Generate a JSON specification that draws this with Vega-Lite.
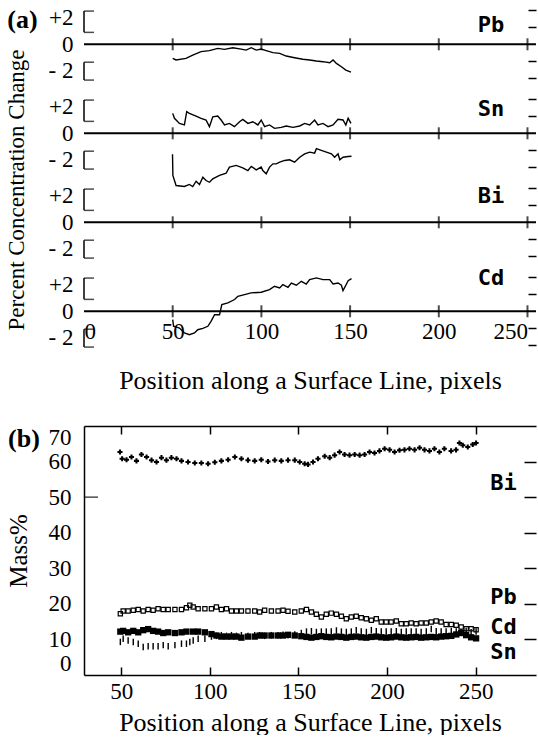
{
"$schema": "https://vega.github.io/schema/vega-lite/v6.json",
"autosize": {"type": "pad"},
"padding": {"left": 6, "top": 0, "right": 0, "bottom": 0},
"bounds": "flush",
"spacing": 0,
"datasets": {
"xt": [{"x": 50}, {"x": 100}, {"x": 150}, {"x": 200}, {"x": 250}],
"br": [{"lo": 0.7, "hi": 1.95}, {"lo": -2.1, "hi": -1.05}],
"sf": [{"y": 1.95}, {"y": 0.7}, {"y": -1.05}, {"y": -2.1}],
"a": [
{"el":"Pb","x":50,"v":-0.83},{"el":"Pb","x":51.9,"v":-0.92},{"el":"Pb","x":57.5,"v":-0.83},{"el":"Pb","x":61.3,"v":-0.63},{"el":"Pb","x":66.0,"v":-0.43},{"el":"Pb","x":70.7,"v":-0.37},{"el":"Pb","x":75.4,"v":-0.24},{"el":"Pb","x":79.2,"v":-0.30},{"el":"Pb","x":83.9,"v":-0.20},{"el":"Pb","x":88.6,"v":-0.28},{"el":"Pb","x":91.4,"v":-0.34},{"el":"Pb","x":94.3,"v":-0.20},{"el":"Pb","x":97.1,"v":-0.34},{"el":"Pb","x":99.9,"v":-0.28},{"el":"Pb","x":102.7,"v":-0.37},{"el":"Pb","x":106.5,"v":-0.49},{"el":"Pb","x":110.3,"v":-0.53},{"el":"Pb","x":114.0,"v":-0.69},{"el":"Pb","x":118.7,"v":-0.79},{"el":"Pb","x":123.4,"v":-0.88},{"el":"Pb","x":127.2,"v":-0.92},{"el":"Pb","x":131.0,"v":-0.98},{"el":"Pb","x":134.7,"v":-1.02},{"el":"Pb","x":138.5,"v":-1.08},{"el":"Pb","x":140.4,"v":-0.92},{"el":"Pb","x":142.3,"v":-1.12},{"el":"Pb","x":145.1,"v":-1.32},{"el":"Pb","x":147.6,"v":-1.51},{"el":"Pb","x":150.5,"v":-1.63},
{"el":"Sn","x":50,"v":1.17},{"el":"Sn","x":51.0,"v":0.88},{"el":"Sn","x":53.8,"v":0.58},{"el":"Sn","x":56.6,"v":0.49},{"el":"Sn","x":57.9,"v":1.27},{"el":"Sn","x":59.4,"v":1.17},{"el":"Sn","x":63.2,"v":1.01},{"el":"Sn","x":66.0,"v":0.88},{"el":"Sn","x":68.8,"v":0.78},{"el":"Sn","x":70.7,"v":0.39},{"el":"Sn","x":72.6,"v":0.97},{"el":"Sn","x":75.4,"v":1.01},{"el":"Sn","x":77.3,"v":0.78},{"el":"Sn","x":79.2,"v":0.49},{"el":"Sn","x":82.0,"v":0.58},{"el":"Sn","x":84.8,"v":0.39},{"el":"Sn","x":87.7,"v":0.68},{"el":"Sn","x":89.5,"v":0.82},{"el":"Sn","x":92.4,"v":0.58},{"el":"Sn","x":95.2,"v":0.68},{"el":"Sn","x":98.0,"v":0.49},{"el":"Sn","x":99.9,"v":0.78},{"el":"Sn","x":101.8,"v":0.39},{"el":"Sn","x":104.6,"v":0.49},{"el":"Sn","x":107.4,"v":0.29},{"el":"Sn","x":111.2,"v":0.35},{"el":"Sn","x":114.0,"v":0.43},{"el":"Sn","x":117.8,"v":0.35},{"el":"Sn","x":121.6,"v":0.43},{"el":"Sn","x":124.4,"v":0.58},{"el":"Sn","x":127.2,"v":0.49},{"el":"Sn","x":130.0,"v":0.78},{"el":"Sn","x":131.9,"v":0.49},{"el":"Sn","x":134.7,"v":0.58},{"el":"Sn","x":137.6,"v":0.39},{"el":"Sn","x":140.4,"v":0.49},{"el":"Sn","x":143.2,"v":0.82},{"el":"Sn","x":146.0,"v":0.78},{"el":"Sn","x":147.6,"v":0.49},{"el":"Sn","x":148.9,"v":0.88},{"el":"Sn","x":150.5,"v":0.58},
{"el":"Bi","x":49.9,"v":4.0},{"el":"Bi","x":50.1,"v":2.75},{"el":"Bi","x":51.9,"v":2.16},{"el":"Bi","x":56.6,"v":2.10},{"el":"Bi","x":59.4,"v":2.22},{"el":"Bi","x":61.3,"v":2.10},{"el":"Bi","x":63.2,"v":2.41},{"el":"Bi","x":65.1,"v":2.22},{"el":"Bi","x":67.0,"v":2.65},{"el":"Bi","x":68.8,"v":2.45},{"el":"Bi","x":70.7,"v":2.35},{"el":"Bi","x":72.6,"v":2.55},{"el":"Bi","x":76.4,"v":2.75},{"el":"Bi","x":80.1,"v":2.88},{"el":"Bi","x":82.0,"v":3.24},{"el":"Bi","x":85.8,"v":3.34},{"el":"Bi","x":89.5,"v":3.20},{"el":"Bi","x":92.4,"v":3.04},{"el":"Bi","x":94.3,"v":3.28},{"el":"Bi","x":97.1,"v":3.08},{"el":"Bi","x":99.9,"v":3.24},{"el":"Bi","x":100.8,"v":3.04},{"el":"Bi","x":102.7,"v":2.85},{"el":"Bi","x":104.6,"v":3.24},{"el":"Bi","x":106.5,"v":3.43},{"el":"Bi","x":108.4,"v":3.43},{"el":"Bi","x":110.3,"v":3.53},{"el":"Bi","x":113.1,"v":3.63},{"el":"Bi","x":115.9,"v":3.67},{"el":"Bi","x":118.7,"v":3.53},{"el":"Bi","x":121.6,"v":3.82},{"el":"Bi","x":124.4,"v":4.02},{"el":"Bi","x":127.2,"v":4.12},{"el":"Bi","x":130.0,"v":4.06},{"el":"Bi","x":131.0,"v":4.32},{"el":"Bi","x":133.8,"v":4.22},{"el":"Bi","x":136.6,"v":4.12},{"el":"Bi","x":139.5,"v":4.02},{"el":"Bi","x":141.3,"v":3.82},{"el":"Bi","x":143.2,"v":4.02},{"el":"Bi","x":144.2,"v":3.67},{"el":"Bi","x":146.0,"v":3.82},{"el":"Bi","x":148.9,"v":3.86},{"el":"Bi","x":150.8,"v":3.88},
{"el":"Cd","x":50,"v":-0.49},{"el":"Cd","x":50.5,"v":-0.88},{"el":"Cd","x":53.8,"v":-0.98},{"el":"Cd","x":56.6,"v":-1.27},{"el":"Cd","x":59.4,"v":-1.37},{"el":"Cd","x":62.3,"v":-1.27},{"el":"Cd","x":64.1,"v":-1.08},{"el":"Cd","x":67.0,"v":-1.0},{"el":"Cd","x":69.8,"v":-0.88},{"el":"Cd","x":71.6,"v":-0.59},{"el":"Cd","x":73.6,"v":-0.2},{"el":"Cd","x":76.4,"v":-0.2},{"el":"Cd","x":77.7,"v":0.39},{"el":"Cd","x":81.1,"v":0.49},{"el":"Cd","x":84.9,"v":0.69},{"el":"Cd","x":86.7,"v":0.88},{"el":"Cd","x":90.5,"v":0.98},{"el":"Cd","x":94.2,"v":1.08},{"el":"Cd","x":99.9,"v":1.12},{"el":"Cd","x":104.6,"v":1.27},{"el":"Cd","x":107.4,"v":1.47},{"el":"Cd","x":110.3,"v":1.37},{"el":"Cd","x":112.1,"v":1.57},{"el":"Cd","x":115.0,"v":1.41},{"el":"Cd","x":116.9,"v":1.66},{"el":"Cd","x":119.7,"v":1.53},{"el":"Cd","x":122.5,"v":1.76},{"el":"Cd","x":125.3,"v":1.60},{"el":"Cd","x":127.2,"v":1.86},{"el":"Cd","x":131.0,"v":1.96},{"el":"Cd","x":134.7,"v":1.86},{"el":"Cd","x":138.5,"v":1.86},{"el":"Cd","x":140.4,"v":1.60},{"el":"Cd","x":143.2,"v":1.66},{"el":"Cd","x":145.1,"v":1.53},{"el":"Cd","x":146.0,"v":1.21},{"el":"Cd","x":147.6,"v":1.53},{"el":"Cd","x":148.9,"v":1.80},{"el":"Cd","x":150.8,"v":1.92}
],
"b": [
{"el":"Bi","x":49.3,"m":62.7},{"el":"Bi","x":50.5,"m":60.8},{"el":"Bi","x":53.0,"m":60.5},{"el":"Bi","x":55.8,"m":61.3},{"el":"Bi","x":58.6,"m":60.2},{"el":"Bi","x":61.4,"m":62.0},{"el":"Bi","x":64.3,"m":61.3},{"el":"Bi","x":67.1,"m":60.4},{"el":"Bi","x":69.9,"m":59.9},{"el":"Bi","x":72.7,"m":61.1},{"el":"Bi","x":75.5,"m":60.4},{"el":"Bi","x":78.3,"m":61.1},{"el":"Bi","x":81.2,"m":60.8},{"el":"Bi","x":84.0,"m":60.2},{"el":"Bi","x":87.7,"m":59.9},{"el":"Bi","x":91.5,"m":59.6},{"el":"Bi","x":95.2,"m":59.6},{"el":"Bi","x":99.0,"m":59.4},{"el":"Bi","x":102.8,"m":59.8},{"el":"Bi","x":106.5,"m":60.2},{"el":"Bi","x":110.3,"m":60.5},{"el":"Bi","x":114.1,"m":61.3},{"el":"Bi","x":117.8,"m":60.8},{"el":"Bi","x":121.5,"m":60.4},{"el":"Bi","x":125.3,"m":60.2},{"el":"Bi","x":129.0,"m":60.5},{"el":"Bi","x":132.8,"m":60.0},{"el":"Bi","x":136.6,"m":60.4},{"el":"Bi","x":140.3,"m":60.2},{"el":"Bi","x":144.1,"m":60.4},{"el":"Bi","x":147.9,"m":60.4},{"el":"Bi","x":150.7,"m":59.9},{"el":"Bi","x":153.5,"m":59.4},{"el":"Bi","x":155.4,"m":59.2},{"el":"Bi","x":158.2,"m":59.9},{"el":"Bi","x":161.0,"m":60.8},{"el":"Bi","x":164.8,"m":61.5},{"el":"Bi","x":167.6,"m":61.1},{"el":"Bi","x":170.4,"m":61.8},{"el":"Bi","x":173.2,"m":62.7},{"el":"Bi","x":176.0,"m":62.0},{"el":"Bi","x":178.8,"m":61.8},{"el":"Bi","x":181.7,"m":62.0},{"el":"Bi","x":184.5,"m":61.8},{"el":"Bi","x":187.3,"m":62.0},{"el":"Bi","x":190.1,"m":62.7},{"el":"Bi","x":192.9,"m":62.4},{"el":"Bi","x":195.7,"m":63.0},{"el":"Bi","x":198.6,"m":63.6},{"el":"Bi","x":201.4,"m":63.3},{"el":"Bi","x":204.2,"m":62.7},{"el":"Bi","x":207.0,"m":63.2},{"el":"Bi","x":209.8,"m":63.3},{"el":"Bi","x":212.6,"m":63.6},{"el":"Bi","x":215.5,"m":63.3},{"el":"Bi","x":218.3,"m":63.9},{"el":"Bi","x":221.1,"m":63.3},{"el":"Bi","x":223.9,"m":63.0},{"el":"Bi","x":226.7,"m":63.6},{"el":"Bi","x":229.5,"m":62.7},{"el":"Bi","x":232.3,"m":63.6},{"el":"Bi","x":236.1,"m":63.0},{"el":"Bi","x":238.9,"m":63.3},{"el":"Bi","x":240.8,"m":65.2},{"el":"Bi","x":242.7,"m":64.6},{"el":"Bi","x":245.5,"m":64.1},{"el":"Bi","x":248.3,"m":64.8},{"el":"Bi","x":250.2,"m":65.2},
{"el":"Pb","x":49.5,"m":17.2},{"el":"Pb","x":51.1,"m":18.0},{"el":"Pb","x":53.9,"m":18.0},{"el":"Pb","x":56.8,"m":18.2},{"el":"Pb","x":59.6,"m":18.4},{"el":"Pb","x":62.4,"m":18.0},{"el":"Pb","x":65.2,"m":18.4},{"el":"Pb","x":68.0,"m":18.2},{"el":"Pb","x":70.8,"m":18.6},{"el":"Pb","x":73.7,"m":18.4},{"el":"Pb","x":76.5,"m":18.4},{"el":"Pb","x":80.3,"m":18.4},{"el":"Pb","x":84.0,"m":18.4},{"el":"Pb","x":86.8,"m":18.9},{"el":"Pb","x":88.7,"m":19.6},{"el":"Pb","x":90.6,"m":19.1},{"el":"Pb","x":93.4,"m":18.6},{"el":"Pb","x":97.2,"m":18.6},{"el":"Pb","x":100.9,"m":18.6},{"el":"Pb","x":103.7,"m":19.1},{"el":"Pb","x":106.5,"m":18.4},{"el":"Pb","x":109.4,"m":18.6},{"el":"Pb","x":112.2,"m":18.0},{"el":"Pb","x":115.0,"m":18.0},{"el":"Pb","x":117.8,"m":18.0},{"el":"Pb","x":121.5,"m":18.0},{"el":"Pb","x":125.3,"m":18.0},{"el":"Pb","x":128.1,"m":17.7},{"el":"Pb","x":130.9,"m":18.2},{"el":"Pb","x":134.7,"m":18.0},{"el":"Pb","x":138.5,"m":18.0},{"el":"Pb","x":141.3,"m":18.2},{"el":"Pb","x":144.1,"m":17.9},{"el":"Pb","x":147.9,"m":17.7},{"el":"Pb","x":151.6,"m":18.0},{"el":"Pb","x":154.5,"m":18.4},{"el":"Pb","x":157.3,"m":17.7},{"el":"Pb","x":160.1,"m":17.1},{"el":"Pb","x":162.9,"m":16.3},{"el":"Pb","x":165.7,"m":17.1},{"el":"Pb","x":168.5,"m":17.4},{"el":"Pb","x":171.4,"m":17.1},{"el":"Pb","x":174.2,"m":16.5},{"el":"Pb","x":177.0,"m":15.8},{"el":"Pb","x":179.8,"m":16.3},{"el":"Pb","x":182.6,"m":16.5},{"el":"Pb","x":185.4,"m":16.1},{"el":"Pb","x":188.3,"m":15.8},{"el":"Pb","x":191.1,"m":15.4},{"el":"Pb","x":193.9,"m":15.8},{"el":"Pb","x":196.7,"m":14.9},{"el":"Pb","x":199.5,"m":14.9},{"el":"Pb","x":202.3,"m":14.9},{"el":"Pb","x":205.2,"m":15.2},{"el":"Pb","x":208.0,"m":14.4},{"el":"Pb","x":210.8,"m":14.4},{"el":"Pb","x":213.6,"m":14.6},{"el":"Pb","x":216.4,"m":14.4},{"el":"Pb","x":219.2,"m":14.6},{"el":"Pb","x":222.1,"m":14.6},{"el":"Pb","x":224.9,"m":14.9},{"el":"Pb","x":227.7,"m":15.2},{"el":"Pb","x":230.5,"m":14.9},{"el":"Pb","x":233.3,"m":14.2},{"el":"Pb","x":236.2,"m":14.2},{"el":"Pb","x":239.0,"m":14.0},{"el":"Pb","x":241.8,"m":13.5},{"el":"Pb","x":244.6,"m":13.0},{"el":"Pb","x":247.4,"m":13.0},{"el":"Pb","x":250.2,"m":12.7},
{"el":"Sn","x":49.5,"m":12.2},{"el":"Sn","x":51.1,"m":12.4},{"el":"Sn","x":53.9,"m":12.0},{"el":"Sn","x":56.8,"m":12.4},{"el":"Sn","x":59.6,"m":12.0},{"el":"Sn","x":62.4,"m":12.6},{"el":"Sn","x":65.2,"m":12.9},{"el":"Sn","x":68.0,"m":12.4},{"el":"Sn","x":70.8,"m":12.2},{"el":"Sn","x":73.7,"m":11.8},{"el":"Sn","x":76.5,"m":12.0},{"el":"Sn","x":80.3,"m":11.8},{"el":"Sn","x":84.0,"m":12.0},{"el":"Sn","x":86.8,"m":12.2},{"el":"Sn","x":90.6,"m":12.2},{"el":"Sn","x":93.4,"m":12.2},{"el":"Sn","x":97.2,"m":12.0},{"el":"Sn","x":100.9,"m":11.5},{"el":"Sn","x":103.7,"m":11.1},{"el":"Sn","x":106.5,"m":10.8},{"el":"Sn","x":109.4,"m":10.8},{"el":"Sn","x":112.2,"m":10.8},{"el":"Sn","x":115.0,"m":10.8},{"el":"Sn","x":117.8,"m":10.5},{"el":"Sn","x":121.5,"m":10.8},{"el":"Sn","x":125.3,"m":10.8},{"el":"Sn","x":128.1,"m":11.1},{"el":"Sn","x":130.9,"m":11.1},{"el":"Sn","x":134.7,"m":11.1},{"el":"Sn","x":138.5,"m":11.1},{"el":"Sn","x":141.3,"m":11.1},{"el":"Sn","x":144.1,"m":11.3},{"el":"Sn","x":147.9,"m":11.1},{"el":"Sn","x":151.6,"m":10.9},{"el":"Sn","x":154.5,"m":10.7},{"el":"Sn","x":157.3,"m":10.5},{"el":"Sn","x":160.1,"m":10.7},{"el":"Sn","x":162.9,"m":10.9},{"el":"Sn","x":165.7,"m":10.7},{"el":"Sn","x":168.5,"m":10.6},{"el":"Sn","x":171.4,"m":10.8},{"el":"Sn","x":174.2,"m":10.7},{"el":"Sn","x":177.0,"m":10.5},{"el":"Sn","x":179.8,"m":10.7},{"el":"Sn","x":182.6,"m":10.8},{"el":"Sn","x":185.4,"m":10.6},{"el":"Sn","x":188.3,"m":10.5},{"el":"Sn","x":191.1,"m":10.7},{"el":"Sn","x":193.9,"m":10.8},{"el":"Sn","x":196.7,"m":10.6},{"el":"Sn","x":199.5,"m":10.5},{"el":"Sn","x":202.3,"m":10.6},{"el":"Sn","x":205.2,"m":10.8},{"el":"Sn","x":208.0,"m":10.6},{"el":"Sn","x":210.8,"m":10.5},{"el":"Sn","x":213.6,"m":10.6},{"el":"Sn","x":216.4,"m":10.7},{"el":"Sn","x":219.2,"m":10.5},{"el":"Sn","x":222.1,"m":10.6},{"el":"Sn","x":224.9,"m":10.7},{"el":"Sn","x":227.7,"m":10.6},{"el":"Sn","x":230.5,"m":10.8},{"el":"Sn","x":233.3,"m":10.9},{"el":"Sn","x":236.2,"m":11.0},{"el":"Sn","x":239.0,"m":11.4},{"el":"Sn","x":241.8,"m":11.8},{"el":"Sn","x":244.6,"m":11.2},{"el":"Sn","x":247.4,"m":10.6},{"el":"Sn","x":250.2,"m":10.3},
{"el":"Cd","x":49.5,"m":9.3},{"el":"Cd","x":51.1,"m":10.2},{"el":"Cd","x":53.9,"m":9.7},{"el":"Cd","x":56.8,"m":9.3},{"el":"Cd","x":59.6,"m":8.8},{"el":"Cd","x":62.4,"m":7.9},{"el":"Cd","x":65.2,"m":8.1},{"el":"Cd","x":68.0,"m":8.1},{"el":"Cd","x":70.8,"m":8.1},{"el":"Cd","x":73.7,"m":8.4},{"el":"Cd","x":76.5,"m":8.1},{"el":"Cd","x":80.3,"m":8.4},{"el":"Cd","x":84.0,"m":8.8},{"el":"Cd","x":86.8,"m":8.8},{"el":"Cd","x":88.7,"m":9.3},{"el":"Cd","x":90.6,"m":9.7},{"el":"Cd","x":93.4,"m":10.2},{"el":"Cd","x":97.2,"m":10.2},{"el":"Cd","x":100.9,"m":10.8},{"el":"Cd","x":103.7,"m":11.0},{"el":"Cd","x":106.5,"m":11.2},{"el":"Cd","x":109.4,"m":11.0},{"el":"Cd","x":112.2,"m":11.2},{"el":"Cd","x":115.0,"m":11.0},{"el":"Cd","x":117.8,"m":11.2},{"el":"Cd","x":121.5,"m":11.0},{"el":"Cd","x":125.3,"m":11.2},{"el":"Cd","x":128.1,"m":11.2},{"el":"Cd","x":130.9,"m":11.0},{"el":"Cd","x":134.7,"m":11.2},{"el":"Cd","x":138.5,"m":11.2},{"el":"Cd","x":141.3,"m":11.3},{"el":"Cd","x":144.1,"m":11.2},{"el":"Cd","x":147.9,"m":11.4},{"el":"Cd","x":151.6,"m":11.8},{"el":"Cd","x":154.5,"m":12.2},{"el":"Cd","x":157.3,"m":12.3},{"el":"Cd","x":160.1,"m":12.1},{"el":"Cd","x":162.9,"m":12.2},{"el":"Cd","x":165.7,"m":12.2},{"el":"Cd","x":168.5,"m":12.2},{"el":"Cd","x":171.4,"m":12.5},{"el":"Cd","x":174.2,"m":12.2},{"el":"Cd","x":177.0,"m":12.1},{"el":"Cd","x":179.8,"m":12.2},{"el":"Cd","x":182.6,"m":12.6},{"el":"Cd","x":185.4,"m":12.2},{"el":"Cd","x":188.3,"m":12.1},{"el":"Cd","x":191.1,"m":12.6},{"el":"Cd","x":193.9,"m":12.3},{"el":"Cd","x":196.7,"m":12.2},{"el":"Cd","x":199.5,"m":12.2},{"el":"Cd","x":202.3,"m":12.2},{"el":"Cd","x":205.2,"m":12.3},{"el":"Cd","x":208.0,"m":12.1},{"el":"Cd","x":210.8,"m":12.2},{"el":"Cd","x":213.6,"m":12.2},{"el":"Cd","x":216.4,"m":12.2},{"el":"Cd","x":219.2,"m":12.1},{"el":"Cd","x":222.1,"m":12.2},{"el":"Cd","x":224.9,"m":12.9},{"el":"Cd","x":227.7,"m":12.3},{"el":"Cd","x":230.5,"m":12.2},{"el":"Cd","x":233.3,"m":12.2},{"el":"Cd","x":236.2,"m":12.4},{"el":"Cd","x":239.0,"m":12.2},{"el":"Cd","x":241.8,"m":12.0},{"el":"Cd","x":244.6,"m":12.4},{"el":"Cd","x":247.4,"m":12.0},{"el":"Cd","x":250.2,"m":12.2}
]
},
"vconcat": [
{
"width": 452, "height": 88.6,
"resolve": {"axis": {"y": "independent"}},
"layer": [
{"data": {"name": "a"}, "transform": [{"filter": "datum.el === 'Pb'"}], "mark": {"type": "line", "color": "black", "strokeWidth": 1.4, "clip": false},
 "encoding": {"x": {"field": "x", "type": "quantitative", "scale": {"domain": [0, 254.8], "nice": false, "zero": false}, "axis": null},
  "y": {"field": "v", "type": "quantitative", "scale": {"domain": [-2.6, 2.6], "nice": false, "zero": false}, "axis": {"orient": "left", "values": [-1.55, 0, 1.55], "labelExpr": "datum.value > 0 ? '+2' : datum.value < 0 ? '- 2' : '0'", "ticks": false, "domain": false, "labelPadding": 11, "title": null}}}},
{"data": {"values": [{}]}, "mark": {"type": "rule", "color": "black", "strokeWidth": 2}, "encoding": {"y": {"datum": 0, "type": "quantitative", "axis": {"orient": "right", "values": [-2, -1, 1, 2], "offset": -8, "tickSize": 8, "tickWidth": 1.5, "domain": false, "labels": false, "title": null}}}},
{"data": {"name": "xt"}, "mark": {"type": "tick", "orient": "vertical", "size": 12, "thickness": 2, "color": "black"}, "encoding": {"x": {"field": "x", "type": "quantitative", "axis": null}, "y": {"datum": 0, "type": "quantitative", "axis": null}}},
{"data": {"name": "br"}, "mark": {"type": "rule", "color": "black", "strokeWidth": 1.5}, "encoding": {"x": {"datum": 0, "type": "quantitative", "axis": null}, "y": {"field": "lo", "type": "quantitative", "axis": null}, "y2": {"field": "hi"}}},
{"data": {"name": "sf"}, "mark": {"type": "tick", "orient": "horizontal", "size": 10, "thickness": 1.5, "xOffset": 5, "color": "black"}, "encoding": {"x": {"datum": 0, "type": "quantitative", "axis": null}, "y": {"field": "y", "type": "quantitative", "axis": null}}},
{"data": {"values": [{}]}, "mark": {"type": "text", "font": "DejaVu Sans Mono", "fontWeight": "bold", "fontSize": 22, "align": "center", "baseline": "middle", "color": "black"}, "encoding": {"x": {"datum": 229.4, "type": "quantitative", "axis": null}, "y": {"datum": 1.13, "type": "quantitative", "axis": null}, "text": {"value": "Pb"}}},
{"data": {"values": [{}]}, "mark": {"type": "text", "font": "Liberation Serif", "fontWeight": "bold", "fontSize": 26, "align": "center", "baseline": "middle", "color": "black"}, "encoding": {"x": {"datum": -34.7, "type": "quantitative", "axis": null}, "y": {"datum": 1.4, "type": "quantitative", "axis": null}, "text": {"value": "(a)"}}}
]
},
{
"width": 452, "height": 88.6,
"resolve": {"axis": {"y": "independent"}},
"layer": [
{"data": {"name": "a"}, "transform": [{"filter": "datum.el === 'Sn'"}], "mark": {"type": "line", "color": "black", "strokeWidth": 1.4, "clip": false},
 "encoding": {"x": {"field": "x", "type": "quantitative", "scale": {"domain": [0, 254.8], "nice": false, "zero": false}, "axis": null},
  "y": {"field": "v", "type": "quantitative", "scale": {"domain": [-2.6, 2.6], "nice": false, "zero": false}, "axis": {"orient": "left", "values": [-1.55, 0, 1.55], "labelExpr": "datum.value > 0 ? '+2' : datum.value < 0 ? '- 2' : '0'", "ticks": false, "domain": false, "labelPadding": 11, "title": null}}}},
{"data": {"values": [{}]}, "mark": {"type": "rule", "color": "black", "strokeWidth": 2}, "encoding": {"y": {"datum": 0, "type": "quantitative", "axis": {"orient": "right", "values": [-2, -1, 1, 2], "offset": -8, "tickSize": 8, "tickWidth": 1.5, "domain": false, "labels": false, "title": null}}}},
{"data": {"name": "xt"}, "mark": {"type": "tick", "orient": "vertical", "size": 12, "thickness": 2, "color": "black"}, "encoding": {"x": {"field": "x", "type": "quantitative", "axis": null}, "y": {"datum": 0, "type": "quantitative", "axis": null}}},
{"data": {"name": "br"}, "mark": {"type": "rule", "color": "black", "strokeWidth": 1.5}, "encoding": {"x": {"datum": 0, "type": "quantitative", "axis": null}, "y": {"field": "lo", "type": "quantitative", "axis": null}, "y2": {"field": "hi"}}},
{"data": {"name": "sf"}, "mark": {"type": "tick", "orient": "horizontal", "size": 10, "thickness": 1.5, "xOffset": 5, "color": "black"}, "encoding": {"x": {"datum": 0, "type": "quantitative", "axis": null}, "y": {"field": "y", "type": "quantitative", "axis": null}}},
{"data": {"values": [{}]}, "mark": {"type": "text", "font": "DejaVu Sans Mono", "fontWeight": "bold", "fontSize": 22, "align": "center", "baseline": "middle", "color": "black"}, "encoding": {"x": {"datum": 229.4, "type": "quantitative", "axis": null}, "y": {"datum": 1.4, "type": "quantitative", "axis": null}, "text": {"value": "Sn"}}}
]
},
{
"width": 452, "height": 88.6,
"resolve": {"axis": {"y": "independent"}},
"layer": [
{"data": {"name": "a"}, "transform": [{"filter": "datum.el === 'Bi'"}], "mark": {"type": "line", "color": "black", "strokeWidth": 1.4, "clip": false},
 "encoding": {"x": {"field": "x", "type": "quantitative", "scale": {"domain": [0, 254.8], "nice": false, "zero": false}, "axis": null},
  "y": {"field": "v", "type": "quantitative", "scale": {"domain": [-2.6, 2.6], "nice": false, "zero": false}, "axis": {"orient": "left", "values": [-1.55, 0, 1.55], "labelExpr": "datum.value > 0 ? '+2' : datum.value < 0 ? '- 2' : '0'", "ticks": false, "domain": false, "labelPadding": 11, "title": null}}}},
{"data": {"values": [{}]}, "mark": {"type": "rule", "color": "black", "strokeWidth": 2}, "encoding": {"y": {"datum": 0, "type": "quantitative", "axis": {"orient": "right", "values": [-2, -1, 1, 2], "offset": -8, "tickSize": 8, "tickWidth": 1.5, "domain": false, "labels": false, "title": null}}}},
{"data": {"name": "xt"}, "mark": {"type": "tick", "orient": "vertical", "size": 12, "thickness": 2, "color": "black"}, "encoding": {"x": {"field": "x", "type": "quantitative", "axis": null}, "y": {"datum": 0, "type": "quantitative", "axis": null}}},
{"data": {"name": "br"}, "mark": {"type": "rule", "color": "black", "strokeWidth": 1.5}, "encoding": {"x": {"datum": 0, "type": "quantitative", "axis": null}, "y": {"field": "lo", "type": "quantitative", "axis": null}, "y2": {"field": "hi"}}},
{"data": {"name": "sf"}, "mark": {"type": "tick", "orient": "horizontal", "size": 10, "thickness": 1.5, "xOffset": 5, "color": "black"}, "encoding": {"x": {"datum": 0, "type": "quantitative", "axis": null}, "y": {"field": "y", "type": "quantitative", "axis": null}}},
{"data": {"values": [{}]}, "mark": {"type": "text", "font": "DejaVu Sans Mono", "fontWeight": "bold", "fontSize": 22, "align": "center", "baseline": "middle", "color": "black"}, "encoding": {"x": {"datum": 229.4, "type": "quantitative", "axis": null}, "y": {"datum": 1.56, "type": "quantitative", "axis": null}, "text": {"value": "Bi"}}},
{"data": {"values": [{}]}, "mark": {"type": "text", "font": "Liberation Serif", "fontSize": 23, "angle": 270, "align": "center", "baseline": "middle", "color": "black"}, "encoding": {"x": {"datum": -37.5, "type": "quantitative", "axis": null}, "y": {"datum": 1.9, "type": "quantitative", "axis": null}, "text": {"value": "Percent Concentration Change"}}}
]
},
{
"width": 452, "height": 88.6,
"resolve": {"axis": {"x": "independent", "y": "independent"}},
"layer": [
{"data": {"name": "a"}, "transform": [{"filter": "datum.el === 'Cd'"}], "mark": {"type": "line", "color": "black", "strokeWidth": 1.4, "clip": false},
 "encoding": {"x": {"field": "x", "type": "quantitative", "scale": {"domain": [0, 254.8], "nice": false, "zero": false}, "axis": {"orient": "bottom", "values": [0, 50, 100, 150, 200, 250], "offset": -35, "ticks": false, "domain": false, "labelPadding": 0, "labelFlush": 10, "labelFont": "Liberation Serif", "labelFontSize": 23, "title": "Position along a Surface Line, pixels", "titleFont": "Liberation Serif", "titleFontSize": 26, "titlePadding": 24}},
  "y": {"field": "v", "type": "quantitative", "scale": {"domain": [-2.6, 2.6], "nice": false, "zero": false}, "axis": {"orient": "left", "values": [-1.55, 0, 1.55], "labelExpr": "datum.value > 0 ? '+2' : datum.value < 0 ? '- 2' : '0'", "ticks": false, "domain": false, "labelPadding": 11, "title": null}}}},
{"data": {"values": [{}]}, "mark": {"type": "rule", "color": "black", "strokeWidth": 2}, "encoding": {"y": {"datum": 0, "type": "quantitative", "axis": {"orient": "right", "values": [-2, -1, 1, 2], "offset": -8, "tickSize": 8, "tickWidth": 1.5, "domain": false, "labels": false, "title": null}}}},
{"data": {"name": "xt"}, "mark": {"type": "tick", "orient": "vertical", "size": 12, "thickness": 2, "color": "black"}, "encoding": {"x": {"field": "x", "type": "quantitative", "axis": null}, "y": {"datum": 0, "type": "quantitative", "axis": null}}},
{"data": {"name": "br"}, "mark": {"type": "rule", "color": "black", "strokeWidth": 1.5}, "encoding": {"x": {"datum": 0, "type": "quantitative", "axis": null}, "y": {"field": "lo", "type": "quantitative", "axis": null}, "y2": {"field": "hi"}}},
{"data": {"name": "sf"}, "mark": {"type": "tick", "orient": "horizontal", "size": 10, "thickness": 1.5, "xOffset": 5, "color": "black"}, "encoding": {"x": {"datum": 0, "type": "quantitative", "axis": null}, "y": {"field": "y", "type": "quantitative", "axis": null}}},
{"data": {"values": [{}]}, "mark": {"type": "text", "font": "DejaVu Sans Mono", "fontWeight": "bold", "fontSize": 22, "align": "center", "baseline": "middle", "color": "black"}, "encoding": {"x": {"datum": 229.4, "type": "quantitative", "axis": null}, "y": {"datum": 1.97, "type": "quantitative", "axis": null}, "text": {"value": "Cd"}}}
]
},
{
"width": 452, "height": 70,
"data": {"values": [{}]},
"mark": {"type": "text", "opacity": 0},
"encoding": {"text": {"value": ""}}
},
{
"width": 452, "height": 249,
"data": {"name": "b"},
"resolve": {"axis": {"x": "independent", "y": "independent"}},
"layer": [
{"transform": [{"filter": "datum.el === 'Cd'"}], "mark": {"type": "point", "shape": "M-0.22,-1H0.22V1H-0.22Z", "filled": true, "color": "black", "size": 42, "opacity": 1},
 "encoding": {"x": {"field": "x", "type": "quantitative", "scale": {"domain": [29, 284], "nice": false, "zero": false}, "axis": null}, "y": {"field": "m", "type": "quantitative", "scale": {"domain": [0, 70], "nice": false}, "axis": null}}},
{"transform": [{"filter": "datum.el === 'Sn'"}], "mark": {"type": "point", "shape": "square", "filled": true, "color": "black", "size": 40, "opacity": 1},
 "encoding": {"x": {"field": "x", "type": "quantitative", "axis": null}, "y": {"field": "m", "type": "quantitative", "axis": null}}},
{"transform": [{"filter": "datum.el === 'Pb'"}], "mark": {"type": "point", "shape": "square", "filled": false, "color": "black", "size": 18, "strokeWidth": 1.2, "opacity": 1},
 "encoding": {"x": {"field": "x", "type": "quantitative", "axis": {"orient": "top", "values": [50, 100, 150, 200, 250], "tickSize": -8, "tickWidth": 1.5, "domainWidth": 1.5, "labels": false, "title": null}},
  "y": {"field": "m", "type": "quantitative", "axis": {"orient": "right", "values": [10, 20, 30, 40, 50, 60], "offset": -12, "tickSize": 12, "tickWidth": 1.5, "domain": false, "labels": false, "title": null}}}},
{"transform": [{"filter": "datum.el === 'Bi'"}], "mark": {"type": "point", "shape": "cross", "filled": true, "color": "black", "size": 26, "opacity": 1},
 "encoding": {"x": {"field": "x", "type": "quantitative", "axis": {"orient": "bottom", "values": [50, 100, 150, 200, 250], "tickSize": -8, "tickWidth": 1.5, "domainWidth": 1.5, "labelPadding": 13, "labelFontSize": 23, "title": "Position along a Surface Line, pixels", "titleFontSize": 26, "titlePadding": 6}},
  "y": {"field": "m", "type": "quantitative", "axis": {"orient": "left", "values": [0, 10, 20, 30, 40, 50, 60, 70], "ticks": false, "domainWidth": 1.5, "labelFlush": true, "labelPadding": 13, "labelFontSize": 23, "title": "Mass%", "titleFontSize": 25, "titlePadding": 17}}}},
{"data": {"values": [{}]}, "mark": {"type": "tick", "orient": "horizontal", "size": 14, "thickness": 1.5, "xOffset": 7, "color": "black"}, "encoding": {"x": {"datum": 29, "type": "quantitative", "axis": null}, "y": {"datum": 50, "type": "quantitative", "axis": null}}},
{"data": {"values": [{}]}, "mark": {"type": "text", "font": "DejaVu Sans Mono", "fontWeight": "bold", "fontSize": 22, "align": "center", "baseline": "middle", "color": "black"}, "encoding": {"x": {"datum": 265.7, "type": "quantitative", "axis": null}, "y": {"datum": 54.1, "type": "quantitative", "axis": null}, "text": {"value": "Bi"}}},
{"data": {"values": [{}]}, "mark": {"type": "text", "font": "DejaVu Sans Mono", "fontWeight": "bold", "fontSize": 22, "align": "center", "baseline": "middle", "color": "black"}, "encoding": {"x": {"datum": 265.7, "type": "quantitative", "axis": null}, "y": {"datum": 21.8, "type": "quantitative", "axis": null}, "text": {"value": "Pb"}}},
{"data": {"values": [{}]}, "mark": {"type": "text", "font": "DejaVu Sans Mono", "fontWeight": "bold", "fontSize": 22, "align": "center", "baseline": "middle", "color": "black"}, "encoding": {"x": {"datum": 265.7, "type": "quantitative", "axis": null}, "y": {"datum": 13.6, "type": "quantitative", "axis": null}, "text": {"value": "Cd"}}},
{"data": {"values": [{}]}, "mark": {"type": "text", "font": "DejaVu Sans Mono", "fontWeight": "bold", "fontSize": 22, "align": "center", "baseline": "middle", "color": "black"}, "encoding": {"x": {"datum": 265.7, "type": "quantitative", "axis": null}, "y": {"datum": 6.6, "type": "quantitative", "axis": null}, "text": {"value": "Sn"}}},
{"data": {"values": [{}]}, "mark": {"type": "text", "font": "Liberation Serif", "fontWeight": "bold", "fontSize": 26, "align": "center", "baseline": "middle", "color": "black"}, "encoding": {"x": {"datum": -4.85, "type": "quantitative", "axis": null}, "y": {"datum": 66.3, "type": "quantitative", "axis": null}, "text": {"value": "(b)"}}}
]
}
],
"config": {
"view": {"stroke": null},
"font": "Liberation Serif",
"axis": {"grid": false, "labelFont": "Liberation Serif", "titleFont": "Liberation Serif", "labelFontSize": 23, "titleFontSize": 25, "titleFontWeight": "normal", "labelColor": "black", "titleColor": "black", "domainColor": "black", "tickColor": "black"}
}
}
